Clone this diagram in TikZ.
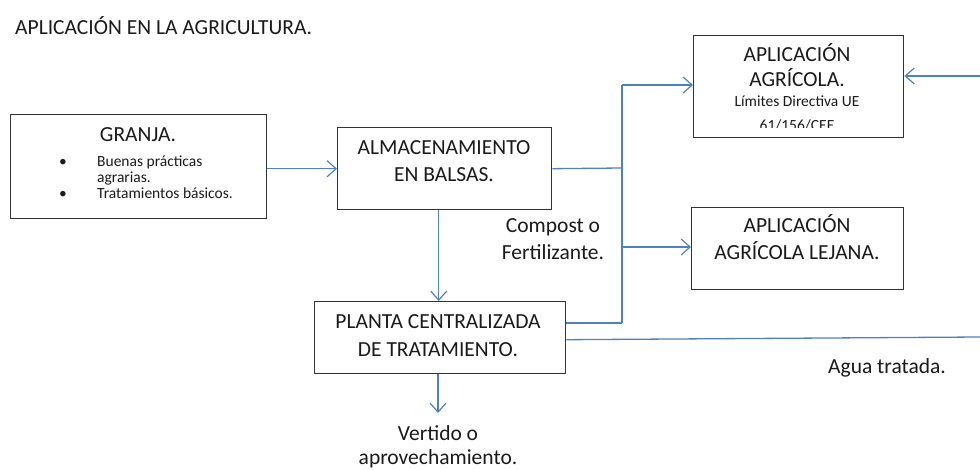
\documentclass[tikz,border=0pt]{standalone}
\usepackage{fontspec}
\setmainfont{Carlito}
\usetikzlibrary{arrows.meta}
\definecolor{flow}{HTML}{4F81BD}
\definecolor{edge}{HTML}{333333}
\definecolor{ink}{HTML}{1A1A1A}
\begin{document}
\begin{tikzpicture}[x=1pt,y=-1pt,
  box/.style={draw=edge, line width=1.4pt, inner sep=0pt, anchor=north west},
  big/.style={font=\fontsize{21.5}{27}\selectfont, text=ink, inner sep=0pt},
  small/.style={font=\fontsize{15.5}{16}\selectfont, text=ink, inner sep=0pt},
  flowline/.style={draw=flow, line width=1.3pt},
  arr/.style={flowline, -{Straight Barb[length=9pt,width=16pt,line width=1.2pt]}}]
\useasboundingbox (0,0) rectangle (980,470);
% title
\node[big, anchor=base west] (title) at (15,35) {APLICACIÓN EN LA AGRICULTURA.};
% boxes
\node[box, minimum width=256pt, minimum height=104pt] (granja) at (10,114) {};
\node[box, minimum width=214pt, minimum height=82pt] (alma) at (337,127) {};
\node[box, minimum width=210pt, minimum height=102pt] (apl) at (693,35) {};
\node[box, minimum width=212pt, minimum height=82pt] (lej) at (691,207) {};
\node[box, minimum width=251pt, minimum height=72pt] (planta) at (314,301) {};
% box texts
\node[big, anchor=base] (granjaT) at (138,142) {GRANJA.};
\node[small, anchor=base] (b1) at (63,167) {\textbullet};
\node[small, anchor=base west] (g1) at (97,167) {Buenas prácticas};
\node[small, anchor=base west] (g2) at (97,183) {agrarias.};
\node[small, anchor=base] (b2) at (63,199) {\textbullet};
\node[small, anchor=base west] (g3) at (97,199) {Tratamientos básicos.};
\node[big, anchor=base] (almaT1) at (444,155) {ALMACENAMIENTO};
\node[big, anchor=base] (almaT2) at (444,182) {EN BALSAS.};
\node[big, anchor=base] (aplT1) at (797,62) {APLICACIÓN};
\node[big, anchor=base] (aplT2) at (797,87) {AGRÍCOLA.};
\node[small, anchor=base] (aplT3) at (797,107) {Límites Directiva UE};
\begin{scope}
\clip (693,35) rectangle (903,128);
\node[small, anchor=base] (aplT4) at (797,131) {61/156/CEE};
\end{scope}
\node[big, anchor=base] (lejT1) at (797,233) {APLICACIÓN};
\node[big, anchor=base] (lejT2) at (797,260) {AGRÍCOLA LEJANA.};
\node[big, anchor=base] (plT1) at (438,329) {PLANTA CENTRALIZADA};
\node[big, anchor=base] (plT2) at (438,356) {DE TRATAMIENTO.};
% free labels
\node[big, anchor=base] (comp1) at (553,233) {Compost o};
\node[big, anchor=base] (comp2) at (553,260) {Fertilizante.};
\node[big, anchor=base] (vert1) at (438,440) {Vertido o};
\node[big, anchor=base] (vert2) at (438,464) {aprovechamiento.};
\node[big, anchor=base west] (agua) at (828,373) {Agua tratada.};
% junction coordinates
\coordinate (jtop) at (622,85);
\coordinate (jmid) at (622,168);
\coordinate (jlej) at (622,247);
\coordinate (jbot) at (622,323);
\coordinate (rin) at (980,76);
\coordinate (wend) at (980,337);
\coordinate (vend) at (438,413);
% connectors
\draw[arr] (granja.east |- alma.west) -- (alma.west);
\draw[flowline] (alma.east) -- (jmid);
\draw[flowline] (jtop) -- (jbot);
\draw[arr] (jtop) -- (jtop -| apl.west);
\draw[arr] (jlej) -- (jlej -| lej.west);
\draw[flowline] (planta.east |- jbot) -- (jbot);
\draw[arr] (rin) -- (rin -| apl.east);
\draw[flowline] ([yshift=-2pt]planta.east) -- (wend);
\draw[arr] ([xshift=-6pt]alma.south) -- ([xshift=-6pt]alma.south |- planta.north);
\draw[arr] (planta.south -| vend) -- (vend);
\end{tikzpicture}
\end{document}
